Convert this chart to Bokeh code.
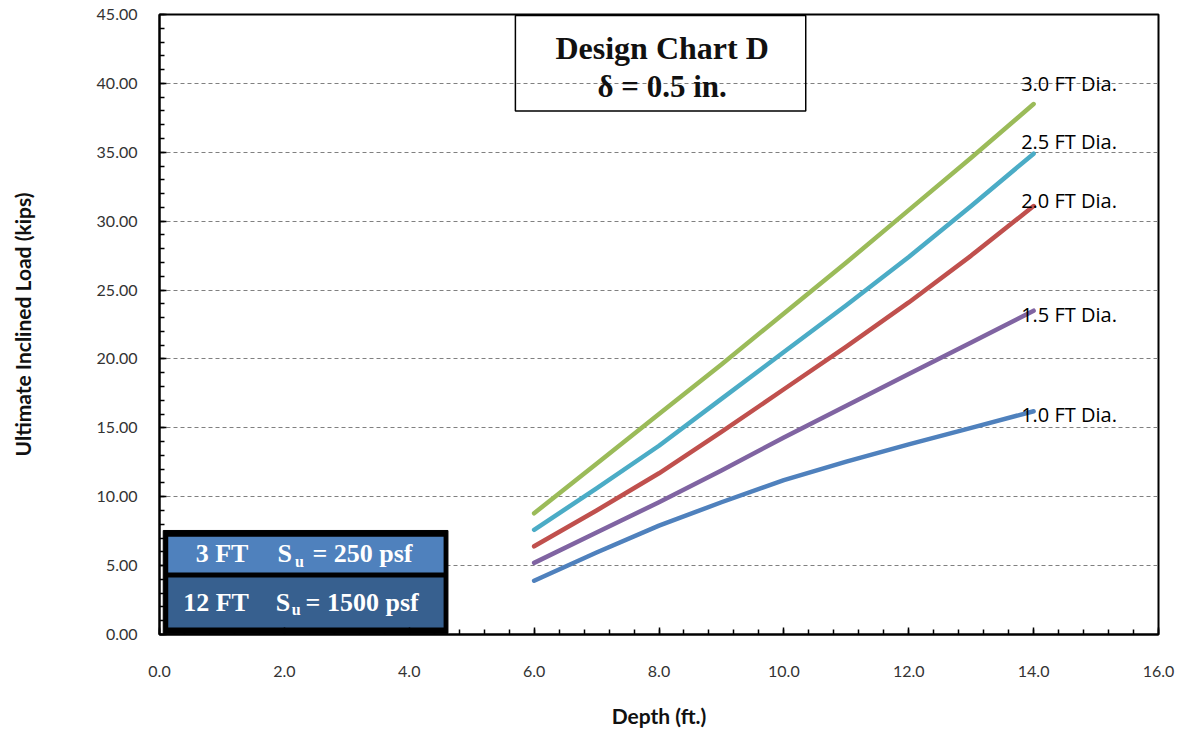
from bokeh.plotting import figure
from bokeh.models import SingleIntervalTicker, NumeralTickFormatter, Range1d
from bokeh.core.properties import value
from bokeh.embed import file_html
from bokeh.resources import INLINE

# ---- data ----
depth = [6.0, 7.0, 8.0, 9.0, 10.0, 11.0, 12.0, 13.0, 14.0]
load_d10 = [3.9, 5.95, 7.9, 9.6, 11.2, 12.55, 13.8, 15.0, 16.2]
load_d15 = [5.2, 7.4, 9.6, 11.9, 14.3, 16.6, 18.9, 21.2, 23.5]
load_d20 = [6.4, 9.0, 11.7, 14.7, 17.8, 20.9, 24.1, 27.5, 31.1]
load_d25 = [7.6, 10.6, 13.7, 17.1, 20.5, 23.9, 27.4, 31.1, 34.9]
load_d30 = [8.8, 12.4, 16.0, 19.6, 23.3, 27.0, 30.8, 34.6, 38.5]
series_labels = ["1.0 FT Dia.", "1.5 FT Dia.", "2.0 FT Dia.", "2.5 FT Dia.", "3.0 FT Dia."]
series_colors = ["#4F81BD", "#8064A2", "#C0504D", "#4BACC6", "#9BBB59"]
label_y = [16.0, 23.2, 31.5, 35.8, 40.0]
label_x = 13.8

p = figure(output_backend="svg", toolbar_location=None,
           frame_width=999, frame_height=620,
           min_border_left=159, min_border_top=14, min_border_right=19, min_border_bottom=92,
           x_range=Range1d(0, 16), y_range=Range1d(0, 45),
           background_fill_color="white", border_fill_color="white")

p.outline_line_color = "black"
p.outline_line_width = 2

# axes
p.xaxis.ticker = SingleIntervalTicker(interval=2, num_minor_ticks=5)
p.yaxis.ticker = SingleIntervalTicker(interval=5, num_minor_ticks=5)
p.xaxis.formatter = NumeralTickFormatter(format="0.0")
p.yaxis.formatter = NumeralTickFormatter(format="0.00")
for ax in (p.xaxis, p.yaxis):
    ax.axis_line_color = "black"
    ax.axis_line_width = 2
    ax.major_tick_line_color = "black"
    ax.minor_tick_line_color = "black"
    ax.major_tick_line_width = 1.5
    ax.minor_tick_line_width = 1.5
    ax.major_tick_in = 7
    ax.major_tick_out = 0
    ax.minor_tick_in = 5
    ax.minor_tick_out = 0
    ax.major_label_text_font = "Lato"
    ax.major_label_text_font_size = "16px"
    ax.major_label_text_color = "#333333"
    ax.axis_label_text_font = "Lato"
    ax.axis_label_text_font_style = "bold"
    ax.axis_label_text_font_size = "21px"
    ax.axis_label_text_color = "#111111"

p.xaxis.axis_label = "Depth (ft.)"
p.yaxis.axis_label = "Ultimate Inclined Load (kips)"
p.xaxis.major_label_standoff = 31
p.xaxis.axis_label_standoff = 23
p.yaxis.major_label_standoff = 22
p.yaxis.axis_label_standoff = 59

p.xgrid.grid_line_color = None
p.ygrid.grid_line_color = "#808080"
p.ygrid.grid_line_dash = "4 3"
p.ygrid.grid_line_width = 1

# series
all_loads = [load_d10, load_d15, load_d20, load_d25, load_d30]
for loads, col in zip(all_loads, series_colors):
    p.line(depth, loads, line_color=col, line_width=4.5, line_cap="round", line_join="round")

p.text(x=[label_x] * 5, y=label_y, text=series_labels,
       text_font=value("Open Sans"), text_font_size="20px", text_color="#000000",
       text_align="left", text_baseline="middle")

# title box
p.quad(left=[5.70], right=[10.35], bottom=[38.0], top=[44.93],
       fill_color=None, line_color="black", line_width=1.5)
p.text(x=[8.05], y=[42.6], text=["Design Chart D"],
       text_font=value("Liberation Serif"), text_font_style="bold",
       text_font_size="32px", text_color="#111111",
       text_align="center", text_baseline="middle")
p.text(x=[8.05], y=[39.8], text=["δ = 0.5 in."],
       text_font=value("Liberation Serif"), text_font_style="bold",
       text_font_size="31px", text_color="#111111",
       text_align="center", text_baseline="middle")

# soil layer box
p.quad(left=[0.06], right=[4.62], bottom=[0.08], top=[7.55],
       fill_color="black", line_color="black", line_width=1)
p.quad(left=[0.14, 0.14], right=[4.55, 4.55], bottom=[4.5, 0.5], top=[7.1, 4.13],
       fill_color=["#4F81BD", "#37608F"], line_color=None)

serif = value("Liberation Serif")
p.text(x=[0.58, 0.38], y=[5.85, 2.3], text=["3 FT", "12 FT"],
       text_font=serif, text_font_style="bold", text_font_size="26px",
       text_color="white", text_align="left", text_baseline="middle")
p.text(x=[1.89, 1.86], y=[5.85, 2.3], text=["S", "S"],
       text_font=serif, text_font_style="bold", text_font_size="26px",
       text_color="white", text_align="left", text_baseline="middle")
p.text(x=[2.17, 2.12], y=[5.3, 1.8], text=["u", "u"],
       text_font=serif, text_font_style="bold", text_font_size="16px",
       text_color="white", text_align="left", text_baseline="middle")
p.text(x=[2.45, 2.34], y=[5.85, 2.3], text=["= 250 psf", "= 1500 psf"],
       text_font=serif, text_font_style="bold", text_font_size="26px",
       text_color="white", text_align="left", text_baseline="middle")

open("out.html", "w").write(file_html(p, INLINE))
